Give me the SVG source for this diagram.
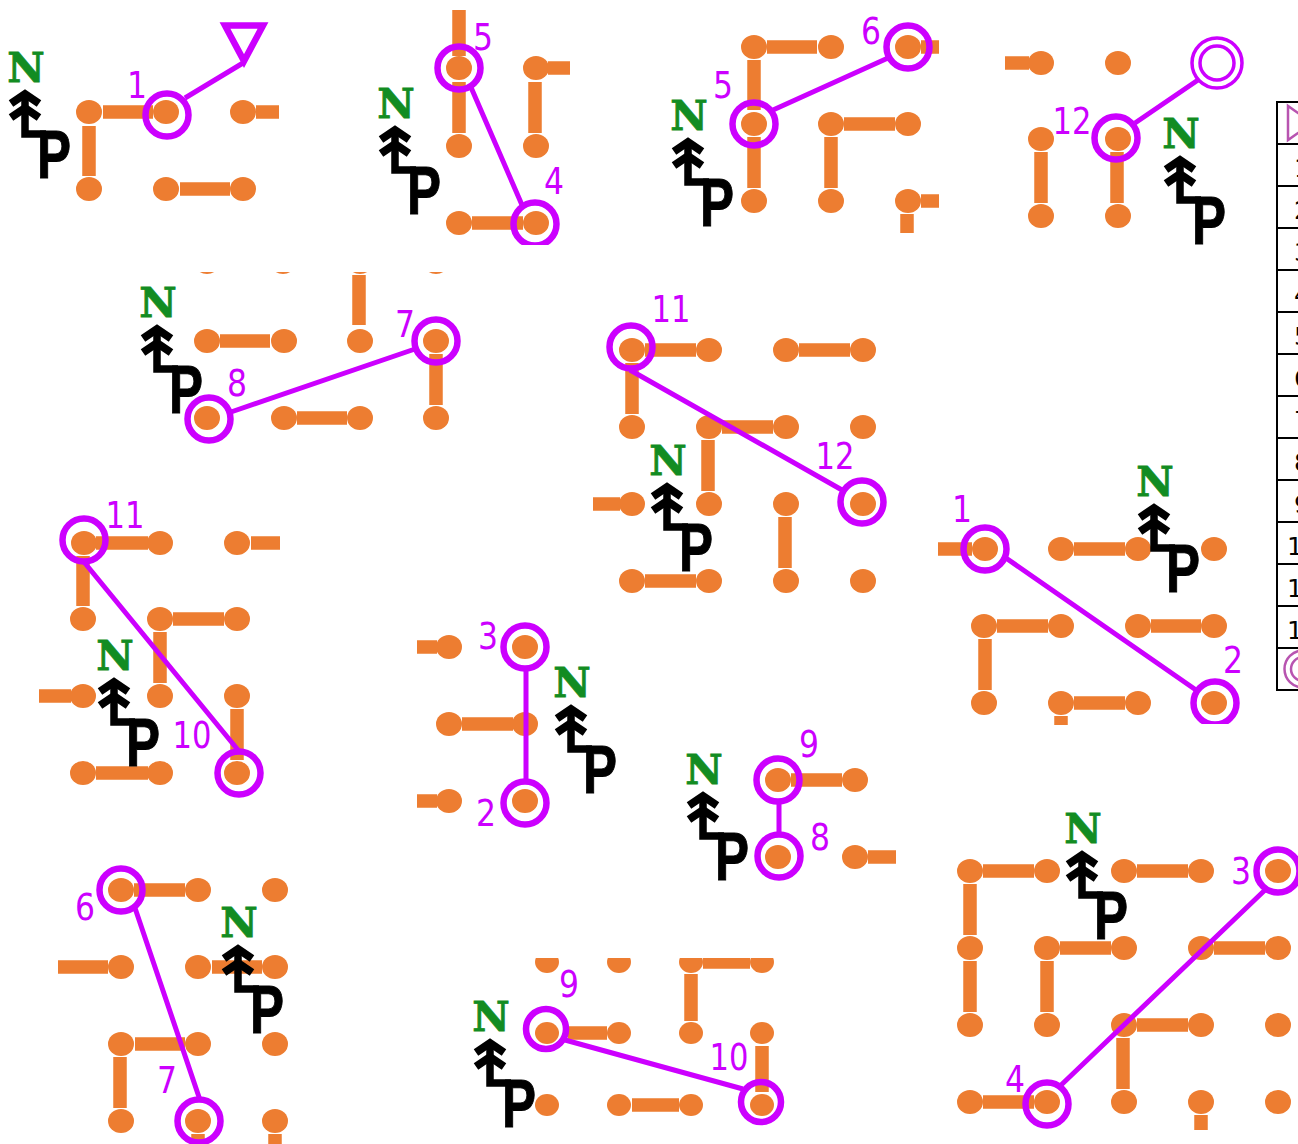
<svg xmlns="http://www.w3.org/2000/svg" width="1298" height="1144" viewBox="0 0 1298 1144">
<style>
.o{fill:#ed7d31}
.b{stroke:#ed7d31;stroke-width:13.5;fill:none}
.r{fill:none;stroke:#cc00ff;stroke-width:6.5}
.l{stroke:#cc00ff;stroke-width:5;fill:none}
.t{font-family:"DejaVu Sans",sans-serif;font-size:37px;fill:#cc00ff;text-anchor:middle}
.n{font-family:"DejaVu Serif",serif;font-weight:bold;font-size:41px;fill:#128c22;stroke:#128c22;stroke-width:.8;text-anchor:middle}
.p{font-family:"Liberation Sans",sans-serif;font-weight:bold;font-size:68px;fill:#000;stroke:#000;stroke-width:1}
.c{font-family:"DejaVu Sans",sans-serif;font-size:25px;fill:#000}
.g{stroke:#000;stroke-width:2;fill:none}
</style>
<defs>
<ellipse id="d" class="o" rx="13" ry="12"/>
<ellipse id="s" class="o" rx="12" ry="11"/>
<g id="a" fill="none" stroke="#000"><path d="M-14,20.500L0,11L14,20.500M-14,34.500L0,25L14,34.500" stroke-width="8"/><path d="M0,12V51H21" stroke-width="7.5"/></g>
<clipPath id="c2"><rect x="360" y="0" width="240" height="245"/></clipPath>
<clipPath id="c5"><rect x="130" y="272" width="340" height="170"/></clipPath>
<clipPath id="c7"><rect x="930" y="460" width="320" height="264"/></clipPath>
<clipPath id="c12"><rect x="470" y="958" width="330" height="186"/></clipPath>
</defs>

<g id="panel-1">
<use href="#d" x="89" y="112"/><use href="#d" x="166" y="112"/><use href="#d" x="243" y="112"/><use href="#d" x="89" y="189"/><use href="#d" x="166" y="189"/><use href="#d" x="243" y="189"/>
<path class="b" d="M103,112H153M256,112H279M89,126V176M180,189H230"/>
<g transform="translate(25,83)"><text class="n" x="1" y="-1">N</text><use href="#a"/><text class="p" x="12" y="95" textLength="34" lengthAdjust="spacingAndGlyphs">P</text></g>
</g>

<g id="panel-2">
<use href="#d" x="459" y="68"/><use href="#d" x="536" y="68"/><use href="#d" x="459" y="146"/><use href="#d" x="536" y="146"/><use href="#d" x="459" y="223"/><use href="#d" x="536" y="223"/>
<path class="b" d="M459,10V56M459,82V133M548,68H570M535,82V133M472,223H523"/>
<g transform="translate(395,119)"><text class="n" x="1" y="-1">N</text><use href="#a"/><text class="p" x="12" y="95" textLength="34" lengthAdjust="spacingAndGlyphs">P</text></g>
</g>

<g id="panel-3">
<use href="#d" x="754" y="47"/><use href="#d" x="831" y="47"/><use href="#d" x="908" y="47"/><use href="#d" x="754" y="124"/><use href="#d" x="831" y="124"/><use href="#d" x="908" y="124"/><use href="#d" x="754" y="201"/><use href="#d" x="831" y="201"/><use href="#d" x="908" y="201"/>
<path class="b" d="M767,47H817M921,47H939M754,60V110M844,124H895M754,137V188M831,137V188M921,201H939M907,214V233"/>
<g transform="translate(688,131)"><text class="n" x="1" y="-1">N</text><use href="#a"/><text class="p" x="12" y="95" textLength="34" lengthAdjust="spacingAndGlyphs">P</text></g>
</g>

<g id="panel-4">
<use href="#d" x="1041" y="63"/><use href="#d" x="1118" y="63"/><use href="#d" x="1041" y="139"/><use href="#d" x="1118" y="139"/><use href="#d" x="1041" y="216"/><use href="#d" x="1118" y="216"/>
<path class="b" d="M1005,63H1029M1041,152V203M1117,152V203"/>
<g transform="translate(1180,149)"><text class="n" x="1" y="-1">N</text><use href="#a"/><text class="p" x="12" y="95" textLength="34" lengthAdjust="spacingAndGlyphs">P</text></g>
</g>

<g id="panel-5">
<g clip-path="url(#c5)"><use href="#d" x="207" y="262"/><use href="#d" x="283" y="262"/><use href="#d" x="360" y="262"/><use href="#d" x="436" y="262"/></g>
<use href="#d" x="207" y="341"/><use href="#d" x="284" y="341"/><use href="#d" x="360" y="341"/><use href="#d" x="436" y="341"/><use href="#d" x="207" y="418"/><use href="#d" x="284" y="418"/><use href="#d" x="360" y="418"/><use href="#d" x="436" y="418"/>
<path class="b" d="M220,341H270M359,275V325M436,354V405M297,418H347"/>
<g transform="translate(157,318)"><text class="n" x="1" y="-1">N</text><use href="#a"/><text class="p" x="12" y="95" textLength="34" lengthAdjust="spacingAndGlyphs">P</text></g>
</g>

<g id="panel-6">
<use href="#d" x="632" y="350"/><use href="#d" x="709" y="350"/><use href="#d" x="786" y="350"/><use href="#d" x="863" y="350"/><use href="#d" x="632" y="427"/><use href="#d" x="709" y="427"/><use href="#d" x="786" y="427"/><use href="#d" x="863" y="427"/><use href="#d" x="632" y="504"/><use href="#d" x="709" y="504"/><use href="#d" x="786" y="504"/><use href="#d" x="863" y="504"/><use href="#d" x="632" y="581"/><use href="#d" x="709" y="581"/><use href="#d" x="786" y="581"/><use href="#d" x="863" y="581"/>
<path class="b" d="M645,350H696M799,350H850M632,363V414M722,427H773M708,440V491M593,504H620M785,517V568M645,581H696"/>
<g transform="translate(667,476)"><text class="n" x="1" y="-1">N</text><use href="#a"/><text class="p" x="12" y="95" textLength="34" lengthAdjust="spacingAndGlyphs">P</text></g>
</g>

<g id="panel-7">
<use href="#d" x="985" y="549"/><use href="#d" x="1061" y="549"/><use href="#d" x="1138" y="549"/><use href="#d" x="1214" y="549"/><use href="#d" x="984" y="626"/><use href="#d" x="1061" y="626"/><use href="#d" x="1138" y="626"/><use href="#d" x="1214" y="626"/><use href="#d" x="984" y="703"/><use href="#d" x="1061" y="703"/><use href="#d" x="1138" y="703"/><use href="#d" x="1214" y="703"/>
<path class="b" d="M938,549H972M1074,549H1125M997,626H1048M1151,626H1201M985,639V690M1074,703H1125M1061,716V725"/>
<g transform="translate(1154,497)"><text class="n" x="1" y="-1">N</text><use href="#a"/><text class="p" x="12" y="95" textLength="34" lengthAdjust="spacingAndGlyphs">P</text></g>
</g>

<g id="panel-8">
<use href="#d" x="84" y="543"/><use href="#d" x="160" y="543"/><use href="#d" x="237" y="543"/><use href="#d" x="83" y="619"/><use href="#d" x="160" y="619"/><use href="#d" x="237" y="619"/><use href="#d" x="83" y="696"/><use href="#d" x="160" y="696"/><use href="#d" x="237" y="696"/><use href="#d" x="83" y="773"/><use href="#d" x="160" y="773"/><use href="#d" x="237" y="773"/>
<path class="b" d="M96,543H148M251,543H280M83,556V606M173,619H224M160,632V683M39,696H71M237,709V760M96,773H148"/>
<g transform="translate(114,671)"><text class="n" x="1" y="-1">N</text><use href="#a"/><text class="p" x="12" y="95" textLength="34" lengthAdjust="spacingAndGlyphs">P</text></g>
</g>

<g id="panel-9">
<use href="#d" x="449" y="647"/><use href="#d" x="525" y="647"/><use href="#d" x="449" y="724"/><use href="#d" x="525" y="724"/><use href="#d" x="449" y="801"/><use href="#d" x="525" y="801"/>
<path class="b" d="M417,647H437M462,724H513M417,801H437"/>
<g transform="translate(571,698)"><text class="n" x="1" y="-1">N</text><use href="#a"/><text class="p" x="12" y="95" textLength="34" lengthAdjust="spacingAndGlyphs">P</text></g>
</g>

<g id="panel-10">
<use href="#d" x="778" y="780"/><use href="#d" x="855" y="780"/><use href="#d" x="778" y="857"/><use href="#d" x="855" y="857"/>
<path class="b" d="M791,780H842M868,857H896"/>
<g transform="translate(703,785)"><text class="n" x="1" y="-1">N</text><use href="#a"/><text class="p" x="12" y="95" textLength="34" lengthAdjust="spacingAndGlyphs">P</text></g>
</g>

<g id="panel-11">
<use href="#d" x="121" y="890"/><use href="#d" x="198" y="890"/><use href="#d" x="275" y="890"/><use href="#d" x="121" y="967"/><use href="#d" x="198" y="967"/><use href="#d" x="275" y="967"/><use href="#d" x="121" y="1044"/><use href="#d" x="198" y="1044"/><use href="#d" x="275" y="1044"/><use href="#d" x="121" y="1121"/><use href="#d" x="198" y="1121"/><use href="#d" x="275" y="1121"/>
<path class="b" d="M134,890H185M58,967H108M212,967H262M135,1044H185M120,1057V1108M198,1134V1144M275,1134V1144"/>
<g transform="translate(238,938)"><text class="n" x="1" y="-1">N</text><use href="#a"/><text class="p" x="12" y="95" textLength="34" lengthAdjust="spacingAndGlyphs">P</text></g>
</g>

<g id="panel-12">
<g clip-path="url(#c12)"><use href="#s" x="547" y="962"/><use href="#s" x="619" y="962"/><use href="#s" x="691" y="962"/><use href="#s" x="762" y="962"/><path class="b" d="M703,962H750"/></g>
<use href="#s" x="547" y="1033"/><use href="#s" x="619" y="1033"/><use href="#s" x="691" y="1033"/><use href="#s" x="762" y="1033"/><use href="#s" x="547" y="1105"/><use href="#s" x="619" y="1105"/><use href="#s" x="691" y="1105"/><use href="#s" x="762" y="1105"/>
<path class="b" d="M691,974V1021M568,1033H607M762,1046V1092M632,1105H679"/>
<g transform="translate(490,1032)"><text class="n" x="1" y="-1">N</text><use href="#a"/><text class="p" x="12" y="95" textLength="34" lengthAdjust="spacingAndGlyphs">P</text></g>
</g>

<g id="panel-13">
<use href="#d" x="970" y="871"/><use href="#d" x="1047" y="871"/><use href="#d" x="1124" y="871"/><use href="#d" x="1201" y="871"/><use href="#d" x="1278" y="871"/><use href="#d" x="970" y="948"/><use href="#d" x="1047" y="948"/><use href="#d" x="1124" y="948"/><use href="#d" x="1201" y="948"/><use href="#d" x="1278" y="948"/><use href="#d" x="970" y="1025"/><use href="#d" x="1047" y="1025"/><use href="#d" x="1124" y="1025"/><use href="#d" x="1201" y="1025"/><use href="#d" x="1278" y="1025"/><use href="#d" x="970" y="1102"/><use href="#d" x="1047" y="1102"/><use href="#d" x="1124" y="1102"/><use href="#d" x="1201" y="1102"/><use href="#d" x="1278" y="1102"/>
<path class="b" d="M983,871H1034M1137,871H1188M970,884V935M970,961V1012M1060,948H1111M1047,961V1012M1214,948H1265M1137,1025H1188M1123,1038V1089M983,1102H1034M1201,1115V1130"/>
<g transform="translate(1082,844)"><text class="n" x="1" y="-1">N</text><use href="#a"/><text class="p" x="12" y="95" textLength="34" lengthAdjust="spacingAndGlyphs">P</text></g>
</g>

<g id="connectors">
<path class="l" d="M185,98L243,63M470,85L522,205M773,110L888,58M1135,123L1198,80M231,412L415,349M630,370L842,490M1003,556L1196,690M84,562L238,750M526,670V782M779,802V833M135,908L200,1100M565,1040L743,1089M1265,890L1058,1088"/>
</g>

<g id="stops">
<path class="r" d="M225,25.500H263L244,61Z"/>
<circle class="r" cx="167" cy="115" r="21.5"/>
<circle class="r" cx="459" cy="68" r="21.5"/>
<circle class="r" cx="535" cy="224" r="21.5" clip-path="url(#c2)"/>
<circle class="r" cx="754" cy="124" r="21.5"/>
<circle class="r" cx="908" cy="47" r="21.5"/>
<circle class="r" cx="1116" cy="138" r="21.5"/>
<circle class="r" cx="1217" cy="63" r="25" style="stroke-width:3.5"/>
<circle class="r" cx="1217" cy="63" r="17" style="stroke-width:3.5"/>
<circle class="r" cx="436" cy="341" r="21.5"/>
<circle class="r" cx="209" cy="419" r="21.5"/>
<circle class="r" cx="631" cy="347" r="21.5"/>
<circle class="r" cx="862" cy="502" r="21.5"/>
<circle class="r" cx="985" cy="549" r="21.5"/>
<circle class="r" cx="1215" cy="703" r="21.5" clip-path="url(#c7)"/>
<circle class="r" cx="84" cy="540" r="21.5"/>
<circle class="r" cx="239" cy="773" r="21.5"/>
<circle class="r" cx="525" cy="647" r="21.5"/>
<circle class="r" cx="525" cy="803" r="21.5"/>
<circle class="r" cx="778" cy="780" r="21.5"/>
<circle class="r" cx="779" cy="856" r="21.5"/>
<circle class="r" cx="121" cy="890" r="21.5"/>
<circle class="r" cx="199" cy="1121" r="21.5"/>
<circle class="r" cx="546" cy="1029" r="20"/>
<circle class="r" cx="761" cy="1102" r="20"/>
<circle class="r" cx="1278" cy="871" r="21.5"/>
<circle class="r" cx="1047" cy="1104" r="21.5"/>
</g>

<g id="labels">
<text class="t" x="137" y="98" textLength="20" lengthAdjust="spacingAndGlyphs">1</text>
<text class="t" x="483" y="50" textLength="20" lengthAdjust="spacingAndGlyphs">5</text>
<text class="t" x="554" y="194" textLength="20" lengthAdjust="spacingAndGlyphs">4</text>
<text class="t" x="871" y="44" textLength="20" lengthAdjust="spacingAndGlyphs">6</text>
<text class="t" x="723" y="98" textLength="20" lengthAdjust="spacingAndGlyphs">5</text>
<text class="t" x="1072" y="134" textLength="39" lengthAdjust="spacingAndGlyphs">12</text>
<text class="t" x="405" y="337" textLength="20" lengthAdjust="spacingAndGlyphs">7</text>
<text class="t" x="237" y="396" textLength="20" lengthAdjust="spacingAndGlyphs">8</text>
<text class="t" x="671" y="322" textLength="39" lengthAdjust="spacingAndGlyphs">11</text>
<text class="t" x="835" y="469" textLength="39" lengthAdjust="spacingAndGlyphs">12</text>
<text class="t" x="962" y="522" textLength="20" lengthAdjust="spacingAndGlyphs">1</text>
<text class="t" x="1233" y="673" textLength="20" lengthAdjust="spacingAndGlyphs">2</text>
<text class="t" x="125" y="528" textLength="39" lengthAdjust="spacingAndGlyphs">11</text>
<text class="t" x="192" y="748" textLength="39" lengthAdjust="spacingAndGlyphs">10</text>
<text class="t" x="488" y="649" textLength="20" lengthAdjust="spacingAndGlyphs">3</text>
<text class="t" x="486" y="826" textLength="20" lengthAdjust="spacingAndGlyphs">2</text>
<text class="t" x="809" y="757" textLength="20" lengthAdjust="spacingAndGlyphs">9</text>
<text class="t" x="820" y="850" textLength="20" lengthAdjust="spacingAndGlyphs">8</text>
<text class="t" x="85" y="920" textLength="20" lengthAdjust="spacingAndGlyphs">6</text>
<text class="t" x="167" y="1093" textLength="20" lengthAdjust="spacingAndGlyphs">7</text>
<text class="t" x="569" y="997" textLength="20" lengthAdjust="spacingAndGlyphs">9</text>
<text class="t" x="729" y="1070" textLength="39" lengthAdjust="spacingAndGlyphs">10</text>
<text class="t" x="1241" y="884" textLength="20" lengthAdjust="spacingAndGlyphs">3</text>
<text class="t" x="1015" y="1092" textLength="20" lengthAdjust="spacingAndGlyphs">4</text>
</g>

<g id="table">
<path class="g" d="M1298,102H1277V690H1298M1277,144H1298M1277,186H1298M1277,228H1298M1277,270H1298M1277,312H1298M1277,354H1298M1277,396H1298M1277,438H1298M1277,480H1298M1277,522H1298M1277,564H1298M1277,606H1298M1277,648H1298"/>
<path d="M1288,106V140L1312,123Z" fill="none" stroke="#b854b0" stroke-width="2.5"/>
<text class="c" x="1294" y="177">1</text><text class="c" x="1294" y="219">2</text><text class="c" x="1294" y="261">3</text><text class="c" x="1294" y="303">4</text><text class="c" x="1294" y="345">5</text><text class="c" x="1294" y="387">6</text><text class="c" x="1294" y="429">7</text><text class="c" x="1294" y="471">8</text><text class="c" x="1294" y="513">9</text><text class="c" x="1287" y="555">10</text><text class="c" x="1287" y="597">11</text><text class="c" x="1287" y="639">12</text>
<circle cx="1303" cy="669" r="18.5" fill="none" stroke="#b854b0" stroke-width="2.5"/><circle cx="1303" cy="669" r="12" fill="none" stroke="#b854b0" stroke-width="2.5"/>
</g>
</svg>
